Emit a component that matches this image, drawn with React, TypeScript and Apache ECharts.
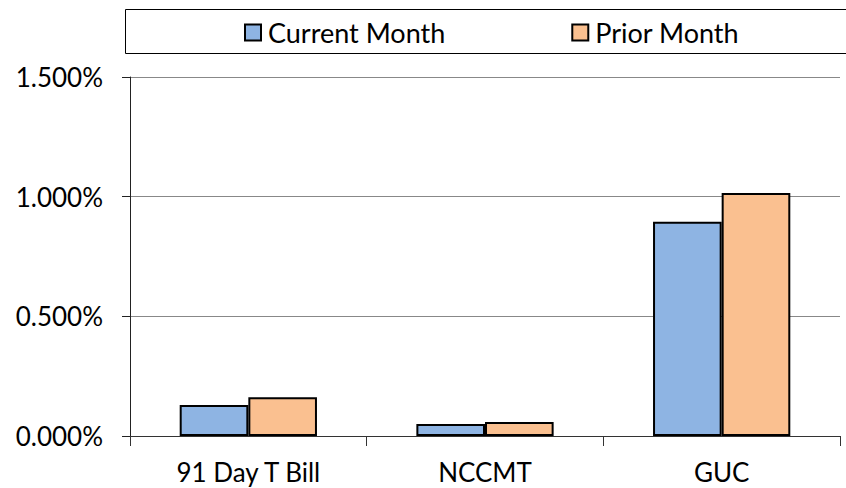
import React, { useEffect, useRef } from "react";
import * as echarts from "echarts";

const categories = ["91 Day T Bill", "NCCMT", "GUC"];
const currentMonth = [0.13, 0.05, 0.895];
const priorMonth = [0.162, 0.058, 1.015];
const seriesNames = ["Current Month", "Prior Month"];

export default function App() {
  const ref = useRef<HTMLDivElement>(null);
  useEffect(() => {
    const chart = echarts.init(ref.current!, null, { renderer: "svg" });
    const font = "Lato";
    chart.setOption({
      animation: false,
      textStyle: { fontFamily: font },
      graphic: [
        {
          type: "rect",
          shape: { x: 125.5, y: 9.5, width: 730, height: 44 },
          style: { fill: "none", stroke: "#000", lineWidth: 1 },
          silent: true,
        },
      ],
      legend: {
        data: seriesNames,
        left: 244,
        top: 19,
        padding: 0,
        itemWidth: 16,
        itemHeight: 16,
        itemGap: 126,
        icon: "rect",
        textStyle: { fontSize: 27, color: "#000", fontFamily: font, padding: [0, 0, 0, 2] },
        itemStyle: { borderColor: "#000", borderWidth: 2 },
      },
      grid: { left: 130, right: 6, top: 77, bottom: 52 },
      xAxis: {
        type: "category",
        data: categories,
        axisLine: { lineStyle: { color: "#333", width: 1 } },
        axisTick: { show: true, length: 10, lineStyle: { color: "#333" } },
        axisLabel: { fontSize: 26, color: "#000", margin: 23, fontFamily: font },
      },
      yAxis: {
        type: "value",
        min: 0,
        max: 1.5,
        interval: 0.5,
        axisLine: { show: true, lineStyle: { color: "#222", width: 1 } },
        axisTick: { show: true, inside: false, length: 8, lineStyle: { color: "#222" } },
        splitLine: { lineStyle: { color: "#888", width: 1 } },
        axisLabel: {
          fontSize: 26,
          color: "#000",
          margin: 27,
          fontFamily: font,
          formatter: (v: number) => v.toFixed(3) + "%",
        },
      },
      series: [
        {
          name: seriesNames[0],
          type: "bar",
          data: currentMonth,
          barGap: "0%",
          barCategoryGap: "42%",
          itemStyle: { color: "#8EB4E3", borderColor: "#000", borderWidth: 2 },
        },
        {
          name: seriesNames[1],
          type: "bar",
          data: priorMonth,
          itemStyle: { color: "#FAC090", borderColor: "#000", borderWidth: 2 },
        },
      ],
    });
    return () => chart.dispose();
  }, []);
  return <div ref={ref} style={{ width: 846, height: 488, position: "absolute", left: 0, top: 0 }} />;
}
